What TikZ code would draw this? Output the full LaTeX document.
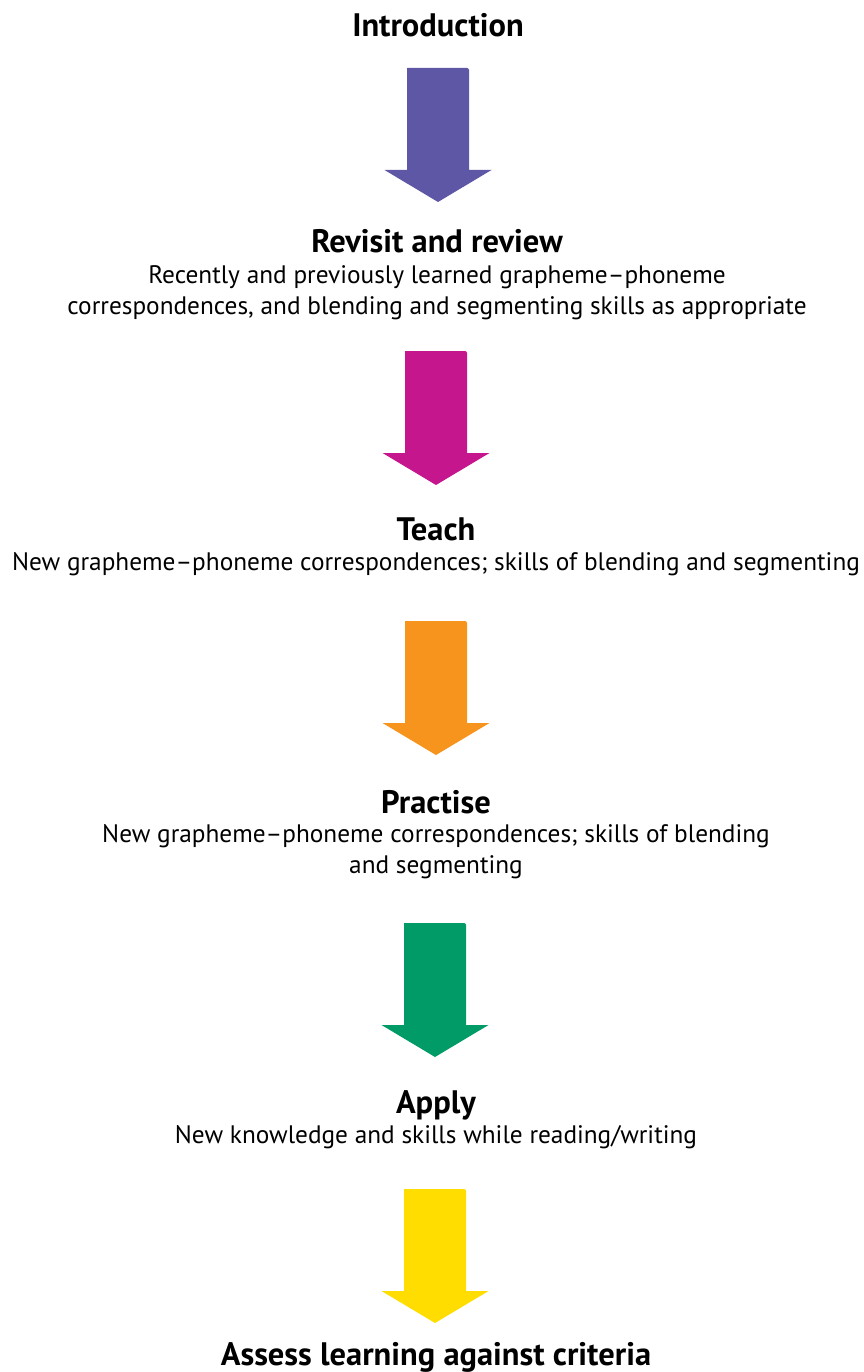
\documentclass[tikz,border=0pt]{standalone}
\usepackage{fontspec}
\setmainfont{PT Sans}
\definecolor{arrPurple}{HTML}{5E57A6}
\definecolor{arrMagenta}{HTML}{C6168D}
\definecolor{arrOrange}{HTML}{F7941D}
\definecolor{arrGreen}{HTML}{009B67}
\definecolor{arrYellow}{HTML}{FFDD00}
\tikzset{
  stage/.style={anchor=base,inner sep=0pt,font=\fontsize{32.5}{38}\selectfont\bfseries},
  detail/.style={anchor=base,inner sep=0pt,font=\fontsize{25.3}{31}\selectfont},
  flow/.pic={\fill[pic actions,rounded corners=2pt](-31,0)--(31,0)[sharp corners]--(31,102)--(53.5,102)--(0,134)--(-53.5,102)--(-31,102)--cycle;}
}
\begin{document}
\begin{tikzpicture}[x=1pt,y=-1pt]
  \useasboundingbox (0,0) rectangle (863,1372);
  % stages
  \node[stage] (intro) at (438,37) {Introduction};
  \node[stage] (revisit) at (437,253) {Revisit and review};
  \node[detail] (revisitA) at (437,283) {Recently and previously learned grapheme–phoneme};
  \node[detail] (revisitB) at (437,314) {correspondences, and blending and segmenting skills as appropriate};
  \node[stage] (teach) at (436,540) {Teach};
  \node[detail] (teachA) at (436,570) {New grapheme–phoneme correspondences; skills of blending and segmenting};
  \node[stage] (practise) at (436,813) {Practise};
  \node[detail] (practiseA) at (436,842) {New grapheme–phoneme correspondences; skills of blending};
  \node[detail] (practiseB) at (436,873) {and segmenting};
  \node[stage] (apply) at (436,1113) {Apply};
  \node[detail] (applyA) at (436,1143) {New knowledge and skills while reading/writing};
  \node[stage] (assess) at (436,1365) {Assess learning against criteria};
  % arrows
  \pic[fill=arrPurple] at (438,68) {flow};
  \pic[fill=arrMagenta] at (436,351) {flow};
  \pic[fill=arrOrange] at (436,621) {flow};
  \pic[fill=arrGreen] at (435,923) {flow};
  \pic[fill=arrYellow] at (435,1189) {flow};
\end{tikzpicture}
\end{document}
